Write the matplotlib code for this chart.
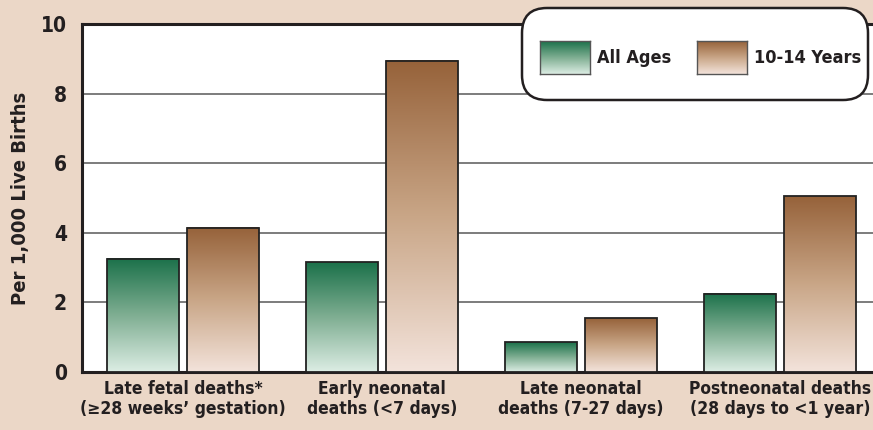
import numpy as np
import matplotlib.pyplot as plt
from matplotlib.colors import LinearSegmentedColormap
from matplotlib.patches import FancyBboxPatch

plt.rcParams['font.family'] = ['DejaVu Sans']
plt.rcParams['font.stretch'] = 'condensed'
plt.rcParams['font.weight'] = 'bold'
plt.rcParams['axes.labelweight'] = 'bold'

# data
categories = ['Late fetal deaths*\n(\u226528 weeks\u2019 gestation)',
              'Early neonatal\ndeaths (<7 days)',
              'Late neonatal\ndeaths (7-27 days)',
              'Postneonatal deaths\n(28 days to <1 year)']
all_ages = [3.25, 3.15, 0.85, 2.25]
teen = [4.15, 8.95, 1.55, 5.05]
series_names = ['All Ages', '10-14 Years']
y_ticks = [0, 2, 4, 6, 8, 10]

bg = '#ebd7c7'
green_cmap = LinearSegmentedColormap.from_list('g', ['#dcede4', '#7fae92', '#1b714a'])
brown_cmap = LinearSegmentedColormap.from_list('b', ['#f3e3db', '#c9a687', '#96623a'])
grad = np.linspace(0, 1, 256).reshape(-1, 1)

fig = plt.figure(figsize=(8.73, 4.30), dpi=100, facecolor=bg)
ax = fig.add_axes([82/873, 1-372/430, 1-82/873, 348/430])
ax.set_facecolor('white')

x = np.arange(len(categories))
w = 0.36
off = 0.2

for vals, cmap, dx in [(all_ages, green_cmap, -off), (teen, brown_cmap, off)]:
    bars = ax.bar(x + dx, vals, width=w, facecolor='none', edgecolor='#222222',
                  linewidth=1.3, zorder=4)
    for b in bars:
        x0, y0 = b.get_x(), b.get_y()
        ax.imshow(grad, cmap=cmap, origin='lower', aspect='auto', zorder=3,
                  extent=[x0, x0 + b.get_width(), y0, y0 + b.get_height()])

ax.set_xlim(-0.508, 3.467)
ax.set_ylim(0, 10)
ax.set_yticks(y_ticks)
ax.set_yticklabels([str(t) for t in y_ticks], fontsize=15)
ax.set_xticks(x)
ax.set_xticklabels(categories, fontsize=12.5, linespacing=1.1)
ax.tick_params(axis='both', length=0, colors='#231f20')
ax.tick_params(axis='y', pad=11)
ax.tick_params(axis='x', pad=6)
ax.set_ylabel('Per 1,000 Live Births', fontsize=14.5, color='#231f20', labelpad=8)
for t in y_ticks[1:-1]:
    ax.axhline(t, color='#666666', linewidth=1.2, zorder=1)
for s in ['left', 'bottom', 'top']:
    ax.spines[s].set_color('#231f20')
    ax.spines[s].set_linewidth(2.2)
ax.spines['right'].set_visible(False)

# legend box (inches)
box = FancyBboxPatch((5.22, 3.30), 3.46, 0.92,
                     boxstyle='round,pad=0,rounding_size=0.25',
                     transform=fig.dpi_scale_trans, facecolor='white',
                     edgecolor='#231f20', linewidth=1.8, zorder=10)
fig.patches.append(box)
for name, cmap, sx in [(series_names[0], green_cmap, 540), (series_names[1], brown_cmap, 697)]:
    sax = fig.add_axes([sx/873, 1-74/430, 50/873, 33/430], zorder=11)
    sax.imshow(grad, cmap=cmap, origin='lower', aspect='auto')
    sax.set_xticks([])
    sax.set_yticks([])
    for s in sax.spines.values():
        s.set_color('#555555')
        s.set_linewidth(1.0)
    fig.text((sx + 57)/873, 1-58/430, name, fontsize=13, va='center', ha='left',
             color='#231f20', zorder=12)

fig.savefig('out.png', dpi=100, facecolor=bg)
